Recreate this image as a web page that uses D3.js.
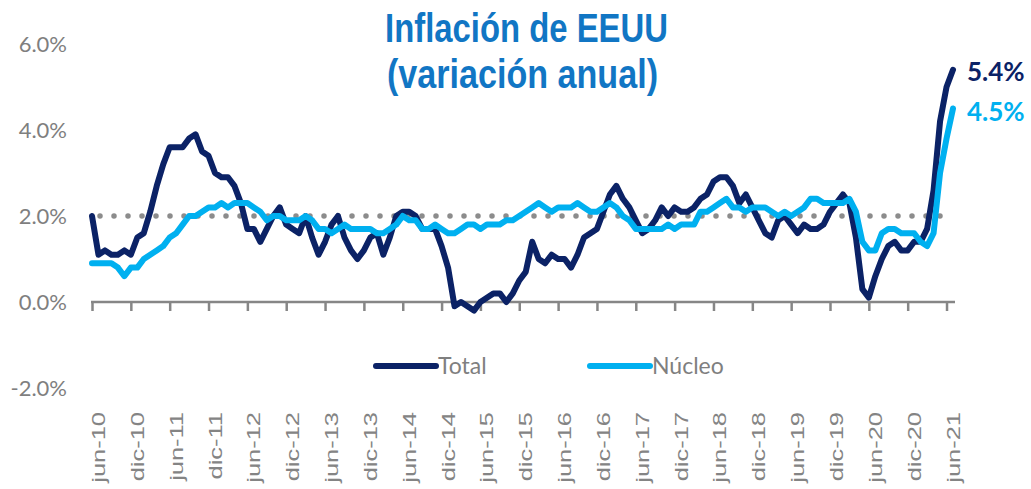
<!DOCTYPE html>
<html>
<head>
<meta charset="utf-8">
<script src="https://cdn.jsdelivr.net/npm/d3@7"></script>
<style>
  body { margin: 0; background: #fff; }
  svg { display: block; }
</style>
</head>
<body>
<div class="chart"></div>
<script>
// monthly YoY inflation, may-10 .. jun-21
var total = [2.0, 1.1, 1.2, 1.1, 1.1, 1.2, 1.1, 1.5,
  1.6, 2.1, 2.7, 3.2, 3.6, 3.6, 3.6, 3.8, 3.9, 3.5, 3.4, 3.0,
  2.9, 2.9, 2.7, 2.3, 1.7, 1.7, 1.4, 1.7, 2.0, 2.2, 1.8, 1.7,
  1.6, 2.0, 1.5, 1.1, 1.4, 1.8, 2.0, 1.5, 1.2, 1.0, 1.2, 1.5,
  1.6, 1.1, 1.5, 2.0, 2.1, 2.1, 2.0, 1.7, 1.7, 1.7, 1.3, 0.8,
  -0.1, 0.0, -0.1, -0.2, 0.0, 0.1, 0.2, 0.2, 0.0, 0.2, 0.5, 0.7,
  1.4, 1.0, 0.9, 1.1, 1.0, 1.0, 0.8, 1.1, 1.5, 1.6, 1.7, 2.1,
  2.5, 2.7, 2.4, 2.2, 1.9, 1.6, 1.7, 1.9, 2.2, 2.0, 2.2, 2.1,
  2.1, 2.2, 2.4, 2.5, 2.8, 2.9, 2.9, 2.7, 2.3, 2.5, 2.2, 1.9,
  1.6, 1.5, 1.9, 2.0, 1.8, 1.6, 1.8, 1.7, 1.7, 1.8, 2.1, 2.3,
  2.5, 2.3, 1.5, 0.3, 0.1, 0.6, 1.0, 1.3, 1.4, 1.2, 1.2, 1.4,
  1.4, 1.7, 2.6, 4.2, 5.0, 5.4];

var nucleo = [0.9, 0.9, 0.9, 0.9, 0.8, 0.6, 0.8, 0.8,
  1.0, 1.1, 1.2, 1.3, 1.5, 1.6, 1.8, 2.0, 2.0, 2.1, 2.2, 2.2,
  2.3, 2.2, 2.3, 2.3, 2.3, 2.2, 2.1, 1.9, 2.0, 2.0, 1.9, 1.9,
  1.9, 2.0, 1.9, 1.7, 1.7, 1.6, 1.7, 1.8, 1.7, 1.7, 1.7, 1.7,
  1.6, 1.6, 1.7, 1.8, 2.0, 1.9, 1.9, 1.7, 1.7, 1.8, 1.7, 1.6,
  1.6, 1.7, 1.8, 1.8, 1.7, 1.8, 1.8, 1.8, 1.9, 1.9, 2.0, 2.1,
  2.2, 2.3, 2.2, 2.1, 2.2, 2.2, 2.2, 2.3, 2.2, 2.1, 2.1, 2.2,
  2.3, 2.2, 2.0, 1.9, 1.7, 1.7, 1.7, 1.7, 1.7, 1.8, 1.7, 1.8,
  1.8, 1.8, 2.1, 2.1, 2.2, 2.3, 2.4, 2.2, 2.2, 2.1, 2.2, 2.2,
  2.2, 2.1, 2.0, 2.1, 2.0, 2.1, 2.2, 2.4, 2.4, 2.3, 2.3, 2.3,
  2.3, 2.4, 2.1, 1.4, 1.2, 1.2, 1.6, 1.7, 1.7, 1.6, 1.6, 1.6,
  1.4, 1.3, 1.6, 3.0, 3.8, 4.5];

var meta = 2.0;
var tickLabels = ["jun-10", "dic-10", "jun-11", "dic-11", "jun-12", "dic-12",
  "jun-13", "dic-13", "jun-14", "dic-14", "jun-15", "dic-15", "jun-16", "dic-16",
  "jun-17", "dic-17", "jun-18", "dic-18", "jun-19", "dic-19", "jun-20", "dic-20", "jun-21"];
var yTicks = [-2, 0, 2, 4, 6];
var seriesNames = ["Total", "Núcleo"];
var titleLines = ["Inflación de EEUU", "(variación anual)"];

var width = 1031, height = 489;
var navy = "#0b2266", sky = "#00b0f0", grey = "#7f7f7f";

var svg = d3.select(".chart").append("svg")
  .attr("width", width)
  .attr("height", height);

var x = d3.scaleLinear().domain([0, total.length - 1]).range([92, 953]);
var y = d3.scaleLinear().domain([-2, 6]).range([388, 44]);

// y labels, no axis line
svg.selectAll(".ylab")
  .data(yTicks)
  .enter().append("text")
  .attr("class", "ylab")
  .attr("x", 67)
  .attr("y", function(d) { return y(d); })
  .attr("dy", "0.36em")
  .attr("text-anchor", "end")
  .attr("font-family", "Lato, sans-serif")
  .attr("font-size", 22)
  .attr("fill", grey)
  .text(function(d) { return d.toFixed(1) + "%"; });

// x axis at zero
var tickIdx = tickLabels.map(function(d, i) { return i * 6; });
var xAxis = d3.axisBottom(x)
  .tickValues(tickIdx)
  .tickSize(9)
  .tickFormat("");
var axisG = svg.append("g")
  .attr("transform", "translate(0," + y(0) + ")")
  .call(xAxis);
axisG.select(".domain").remove();
axisG.selectAll(".tick line")
  .attr("stroke", "#868686")
  .attr("stroke-width", 2.5);
axisG.append("line")
  .attr("x1", x(0) - 1).attr("x2", x(total.length - 1) + 2)
  .attr("stroke", "#868686")
  .attr("stroke-width", 2.5);

svg.selectAll(".xlab")
  .data(tickLabels)
  .enter().append("text")
  .attr("class", "xlab")
  .attr("transform", function(d, i) {
    return "translate(" + (x(i * 6) + 13) + ",412) rotate(-90) scale(1.34,1)";
  })
  .attr("text-anchor", "end")
  .attr("font-family", "'Liberation Sans', Arial, sans-serif")
  .attr("font-size", 19)
  .attr("fill", "#848484")
  .text(function(d) { return d; });

// 2% target, dotted
svg.append("line")
  .attr("x1", x(0)).attr("x2", x(total.length - 1))
  .attr("y1", y(meta)).attr("y2", y(meta))
  .attr("stroke", "#8c8c8c")
  .attr("stroke-width", 5.5)
  .attr("stroke-linecap", "round")
  .attr("stroke-dasharray", "0,14")
  .attr("stroke-dashoffset", 6);

var line = d3.line()
  .x(function(d, i) { return x(i); })
  .y(function(d) { return y(d); });

[[total, navy], [nucleo, sky]].forEach(function(s) {
  svg.append("path")
    .datum(s[0])
    .attr("d", line)
    .attr("fill", "none")
    .attr("stroke", s[1])
    .attr("stroke-width", 6)
    .attr("stroke-linejoin", "round")
    .attr("stroke-linecap", "round");
});

// end labels
[[total, navy, 72], [nucleo, sky, 112]].forEach(function(s) {
  svg.append("text")
    .attr("x", 967)
    .attr("y", s[2])
    .attr("dy", "0.36em")
    .attr("font-family", "Lato, sans-serif")
    .attr("font-weight", "bold")
    .attr("font-size", 26)
    .attr("fill", s[1])
    .text(s[0][s[0].length - 1].toFixed(1) + "%");
});

// legend
var legend = svg.selectAll(".leg")
  .data(seriesNames)
  .enter().append("g")
  .attr("class", "leg")
  .attr("transform", function(d, i) { return "translate(" + (i === 0 ? 376 : 590) + ",366)"; });
legend.append("line")
  .attr("x1", 0).attr("x2", 60)
  .attr("stroke", function(d, i) { return i === 0 ? navy : sky; })
  .attr("stroke-width", 6)
  .attr("stroke-linecap", "round");
legend.append("text")
  .attr("x", 62)
  .attr("y", 8)
  .attr("font-family", "Lato, sans-serif")
  .attr("font-size", 23)
  .attr("fill", grey)
  .text(function(d) { return d; });

// title
svg.selectAll(".title")
  .data(titleLines)
  .enter().append("text")
  .attr("class", "title")
  .attr("x", function(d, i) { return i === 0 ? 385 : 387; })
  .attr("y", function(d, i) { return i === 0 ? 42 : 88; })
  .attr("textLength", function(d, i) { return i === 0 ? 283 : 271; })
  .attr("lengthAdjust", "spacingAndGlyphs")
  .attr("font-family", "'Liberation Sans Narrow', 'Liberation Sans', Arial, sans-serif")
  .attr("font-weight", "bold")
  .attr("font-size", 40)
  .attr("fill", "#1176c4")
  .text(function(d) { return d; });
</script>
</body>
</html>
